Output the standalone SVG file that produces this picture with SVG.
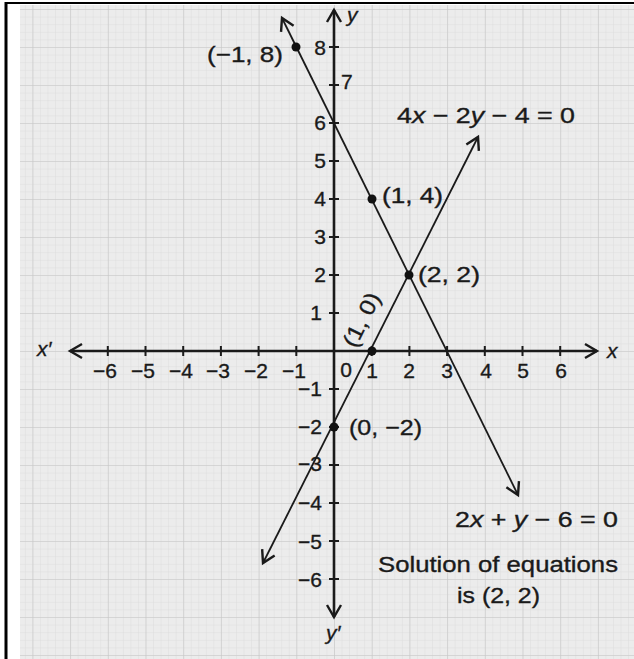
<svg xmlns="http://www.w3.org/2000/svg" width="634" height="659" viewBox="0 0 634 659">
  <style>
    .t { font-family: "Liberation Sans", Arial, sans-serif; fill: #1a1a1a; stroke: #1a1a1a; stroke-width: 0.35; }
    .tick { font-size: 21px; }
    .lab { font-size: 22px; }
    .it { font-style: italic; }
    .ax { stroke: #1a1a1a; stroke-width: 2.6; fill: none; }
    .ln { stroke: #1a1a1a; stroke-width: 1.8; fill: none; }
    .tk { stroke: #1a1a1a; stroke-width: 2; }
    .dot { fill: #111; }
  </style>
  <defs>
    <pattern id="minor" patternUnits="userSpaceOnUse" x="334" y="351" width="7.54" height="7.6">
      <path d="M0,0 H7.54 M0,0 V7.6" stroke="#d9d9d9" stroke-width="0.8" fill="none"/>
    </pattern>
    <pattern id="major" patternUnits="userSpaceOnUse" x="334" y="351" width="37.7" height="38">
      <path d="M0,0 H37.7 M0,0 V38" stroke="#c6c6c6" stroke-width="1.2" fill="none"/>
    </pattern>
    <marker id="arr" markerUnits="userSpaceOnUse" markerWidth="30" markerHeight="30" refX="0" refY="0" viewBox="-15 -15 30 30" orient="auto-start-reverse">
      <path d="M-12,-7 L0,0 L-12,7" stroke="#1a1a1a" stroke-width="2.4" fill="none"/>
    </marker>
  </defs>

  <!-- paper -->
  <rect x="0" y="0" width="634" height="659" fill="#ffffff"/>
  <rect x="20" y="5" width="614" height="654" fill="#ececec"/>
  <rect x="20" y="5" width="614" height="654" fill="url(#minor)"/>
  <rect x="20" y="5" width="614" height="654" fill="url(#major)"/>
  <line x1="6" y1="2" x2="6" y2="659" stroke="#000" stroke-width="3"/>
  <line x1="5" y1="3" x2="634" y2="3" stroke="#000" stroke-width="2"/>

  <g id="connectors">
    <!-- axes -->
    <line id="x-axis" class="ax" x1="70" y1="351" x2="597" y2="351" marker-start="url(#arr)" marker-end="url(#arr)"/>
    <line id="y-axis" class="ax" x1="334" y1="10" x2="334" y2="617" marker-start="url(#arr)" marker-end="url(#arr)"/>
    <!-- ticks -->
    <path class="tk" d="M107.8,346 v10 M145.5,346 v10 M183.2,346 v10 M220.9,346 v10 M258.6,346 v10 M296.3,346 v10 M371.7,346 v10 M409.4,346 v10 M447.1,346 v10 M484.8,346 v10 M522.5,346 v10 M560.2,346 v10"/>
    <path class="tk" d="M329,47 h10 M329,85 h10 M329,123 h10 M329,161 h10 M329,199 h10 M329,237 h10 M329,275 h10 M329,313 h10 M329,389 h10 M329,427 h10 M329,465 h10 M329,503 h10 M329,541 h10 M329,579 h10"/>
    <!-- 2x + y - 6 = 0 -->
    <line id="line1" class="ln" x1="282" y1="18" x2="518" y2="495" marker-start="url(#arr)" marker-end="url(#arr)"/>
    <!-- 4x - 2y - 4 = 0 -->
    <line id="line2" class="ln" x1="263" y1="563" x2="478" y2="137" marker-start="url(#arr)" marker-end="url(#arr)"/>
  </g>

  <g id="axis-labels" class="t tick">
    <text x="37" y="356" class="it">x′</text>
    <text x="607" y="358" class="it">x</text>
    <text x="347" y="22" class="it">y</text>
    <text x="326" y="640" class="it">y′</text>
    <!-- x ticks -->
    <g text-anchor="middle">
      <text x="105" y="378">−6</text>
      <text x="143" y="378">−5</text>
      <text x="181" y="378">−4</text>
      <text x="218" y="378">−3</text>
      <text x="256" y="378">−2</text>
      <text x="294" y="378">−1</text>
      <text x="346" y="377">0</text>
      <text x="372" y="378">1</text>
      <text x="409" y="378">2</text>
      <text x="447" y="378">3</text>
      <text x="486" y="378">4</text>
      <text x="523" y="378">5</text>
      <text x="561" y="378">6</text>
    </g>
    <!-- y ticks -->
    <g text-anchor="end">
      <text x="326" y="55">8</text>
      <text x="326" y="130">6</text>
      <text x="326" y="168">5</text>
      <text x="326" y="206">4</text>
      <text x="326" y="244">3</text>
      <text x="326" y="282">2</text>
      <text x="322" y="320">1</text>
      <text x="322" y="396">−1</text>
      <text x="322" y="434">−2</text>
      <text x="322" y="471">−3</text>
      <text x="322" y="510">−4</text>
      <text x="322" y="549">−5</text>
      <text x="322" y="587">−6</text>
    </g>
    <text x="341" y="89">7</text>
  </g>

  <g id="p-m1-8">
    <circle class="dot" cx="296" cy="47" r="4.5"/>
    <text class="t lab" x="207" y="62" textLength="76" lengthAdjust="spacingAndGlyphs">(−1, 8)</text>
  </g>
  <g id="p-1-4">
    <circle class="dot" cx="372" cy="199" r="4.5"/>
    <text class="t lab" x="382" y="203" textLength="61" lengthAdjust="spacingAndGlyphs">(1, 4)</text>
  </g>
  <g id="p-2-2">
    <circle class="dot" cx="409" cy="275" r="4.5"/>
    <text class="t lab" x="418" y="282" textLength="62" lengthAdjust="spacingAndGlyphs">(2, 2)</text>
  </g>
  <g id="p-1-0">
    <circle class="dot" cx="372" cy="351" r="4.5"/>
    <text class="t lab" text-anchor="middle" transform="translate(362,320) rotate(-63.6)" x="0" y="7" textLength="58" lengthAdjust="spacingAndGlyphs">(1, 0)</text>
  </g>
  <g id="p-0-m2">
    <circle class="dot" cx="334" cy="427" r="4.5"/>
    <text class="t lab" x="349" y="435" textLength="73" lengthAdjust="spacingAndGlyphs">(0, −2)</text>
  </g>

  <g id="eq2">
    <text class="t lab" x="397" y="123" textLength="178" lengthAdjust="spacingAndGlyphs">4<tspan class="it">x</tspan>  − 2<tspan class="it">y</tspan> − 4 = 0</text>
  </g>
  <g id="eq1">
    <text class="t lab" x="455" y="527" textLength="163" lengthAdjust="spacingAndGlyphs">2<tspan class="it">x</tspan>  + <tspan class="it">y</tspan> − 6 = 0</text>
  </g>
  <g id="solution">
    <text class="t lab" x="378" y="572" textLength="240" lengthAdjust="spacingAndGlyphs">Solution of equations</text>
    <text class="t lab" x="457" y="603" textLength="83" lengthAdjust="spacingAndGlyphs">is (2, 2)</text>
  </g>
</svg>
